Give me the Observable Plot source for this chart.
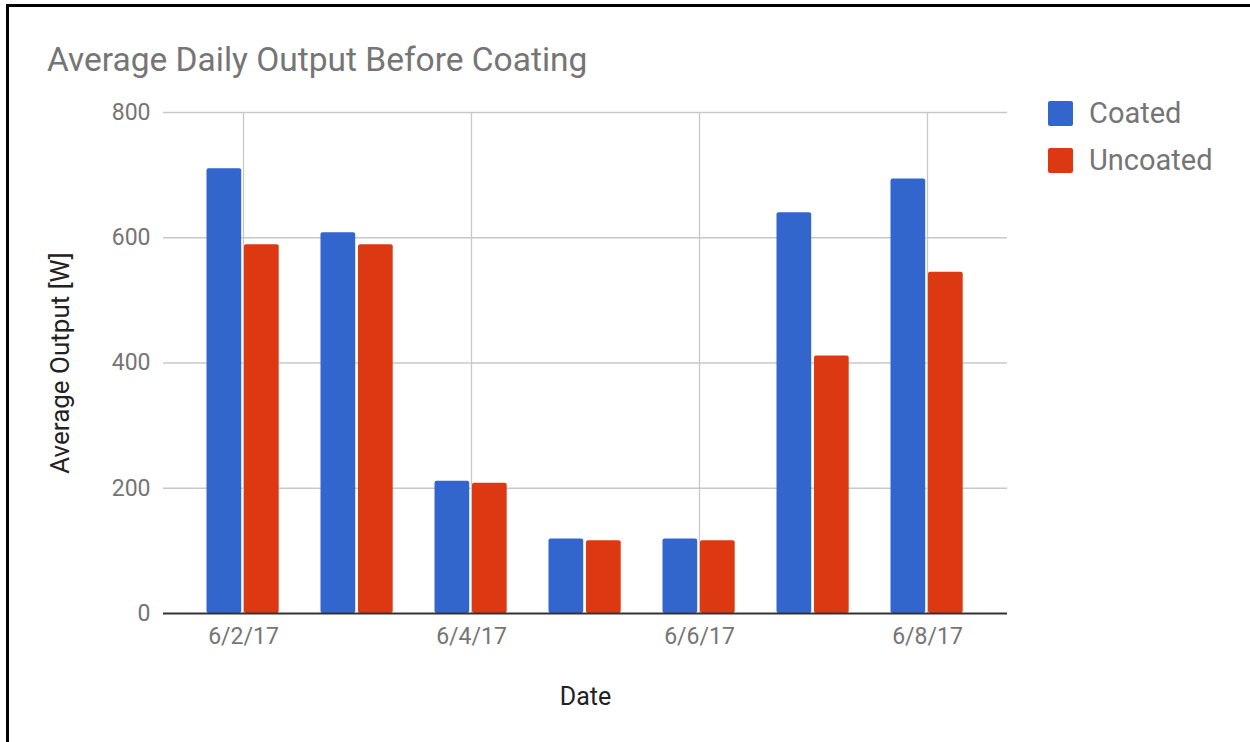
<!DOCTYPE html>
<html>
<head>
<meta charset="utf-8">
<script src="https://cdn.jsdelivr.net/npm/d3@7"></script>
<script src="https://cdn.jsdelivr.net/npm/@observablehq/plot@0.6"></script>
<style>
  html, body { margin: 0; padding: 0; background: #fff; overflow: hidden; }
  #wrap { position: relative; width: 1250px; height: 742px; overflow: hidden; background: #fff; font-family: Roboto, sans-serif; }
  #frameTop { position: absolute; left: 6px; top: 4px; width: 1244px; height: 3px; background: #000; }
  #frameLeft { position: absolute; left: 6px; top: 4px; width: 3px; height: 738px; background: #000; }
  #chart { position: absolute; left: 0; top: 0; }
  #title { position: absolute; left: 47px; top: 43px; font-size: 33.5px; line-height: 34px; color: #757575; white-space: nowrap; }
  .leg { position: absolute; left: 1048px; display: flex; align-items: center; font-size: 29px; line-height: 29px; color: #757575; white-space: nowrap; }
  .sw { width: 25px; height: 25px; border-radius: 2px; margin-right: 16px; }
</style>
</head>
<body>
<div id="wrap">
  <div id="frameTop"></div>
  <div id="frameLeft"></div>
  <div id="chart"></div>
  <div id="title">Average Daily Output Before Coating</div>
  <div id="legend"></div>
</div>
<script>
const dates = ["6/2/17", "6/3/17", "6/4/17", "6/5/17", "6/6/17", "6/7/17", "6/8/17"];
const coated = [710, 608, 211, 119, 119, 640, 694];
const uncoated = [589, 589, 208, 116, 116, 411, 545];
const seriesNames = ["Coated", "Uncoated"];
const seriesColors = ["#3366cc", "#dc3912"];
const yTicks = [0, 200, 400, 600, 800];
const xTickLabels = ["6/2/17", "6/4/17", "6/6/17", "6/8/17"];

const rows = dates.flatMap((d, i) => [
  {date: d, series: "Coated", value: coated[i]},
  {date: d, series: "Uncoated", value: uncoated[i]}
]);

const chart = Plot.plot({
  width: 1250,
  height: 742,
  marginLeft: 163,
  marginRight: 243,
  marginTop: 112,
  marginBottom: 129,
  style: {fontFamily: "Roboto, sans-serif", fontSize: "23px", color: "#757575", background: "transparent", overflow: "visible"},
  x: {type: "band", domain: dates, paddingInner: 0, paddingOuter: 0.175, ticks: xTickLabels, tickSize: 0, tickPadding: 14, label: null},
  y: {domain: [0, 800], ticks: yTicks, tickSize: 0, tickPadding: 13, label: null},
  color: {domain: seriesNames, range: seriesColors},
  marks: [
    Plot.ruleY(yTicks.filter(t => t > 0), {stroke: "#c8c8c8", strokeWidth: 1.3}),
    Plot.ruleX(xTickLabels, {x: d => d, stroke: "#c8c8c8", strokeWidth: 1.3}),
    Plot.barY(rows.filter(r => r.series === "Coated"), {x: "date", y: "value", fill: "series", insetLeft: 20.5, insetRight: 58.8, rx: 2}),
    Plot.barY(rows.filter(r => r.series === "Uncoated"), {x: "date", y: "value", fill: "series", insetLeft: 58, insetRight: 21.3, rx: 2}),
    Plot.ruleY([0], {stroke: "#333333", strokeWidth: 2}),
    Plot.text(["Date"], {frameAnchor: "bottom", dy: 83, fill: "#222222", fontSize: 25, lineAnchor: "middle"}),
    Plot.text(["Average Output [W]"], {frameAnchor: "left", dx: -103, rotate: -90, fill: "#222222", fontSize: 26, lineAnchor: "middle", textAnchor: "middle"})
  ]
});
document.getElementById("chart").appendChild(chart);

const legend = document.getElementById("legend");
const tops = [99, 146];
seriesNames.forEach((name, i) => {
  const item = document.createElement("div");
  item.className = "leg";
  item.style.top = tops[i] + "px";
  const sw = document.createElement("div");
  sw.className = "sw";
  sw.style.background = seriesColors[i];
  const label = document.createElement("span");
  label.textContent = name;
  item.appendChild(sw);
  item.appendChild(label);
  legend.appendChild(item);
});
</script>
</body>
</html>
